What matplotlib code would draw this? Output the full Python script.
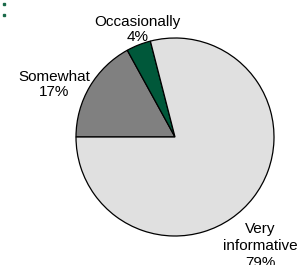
import matplotlib
matplotlib.use("Agg")
import matplotlib.pyplot as plt
from matplotlib.lines import Line2D

# Datos del gráfico
categorias = ['Somewhat', 'Occasionally', 'Very\ninformative']
porcentajes = [17, 4, 79]
colores = ['#808080', '#00583a', '#e0e0e0']

plt.rcParams['font.family'] = ['Liberation Sans', 'DejaVu Sans']

fig = plt.figure(figsize=(3.05, 2.65), dpi=100)
ax = fig.add_axes([(175 - 99) / 305, (265 - 137 - 99) / 265, 198 / 305, 198 / 265])

ax.pie(porcentajes, colors=colores, startangle=180, counterclock=False,
       wedgeprops={'edgecolor': 'black', 'linewidth': 0.9})
ax.set_xlim(-1, 1)
ax.set_ylim(-1, 1)
ax.set_aspect('equal')

# posiciones de las etiquetas (en radios)
pos_etiquetas = [(-1.22, 0.53), (-0.38, 1.09), (0.86, -1.10)]
espaciado = [1.1, 1.1, 1.25]
for cat, pct, (x, y), ls in zip(categorias, porcentajes, pos_etiquetas, espaciado):
    ax.text(x, y, f"{cat}\n{pct}%", ha='center', va='center', fontsize=11,
            linespacing=ls, clip_on=False)

# viñetas pequeñas arriba a la izquierda
fig.add_artist(Line2D([4 / 305, 4 / 305], [1 - 3.5 / 265, 1 - 14.5 / 265],
                      transform=fig.transFigure, ls='none', marker='s',
                      ms=1.8, color='#1a6a4a'))

fig.savefig('out.png', dpi=100)
